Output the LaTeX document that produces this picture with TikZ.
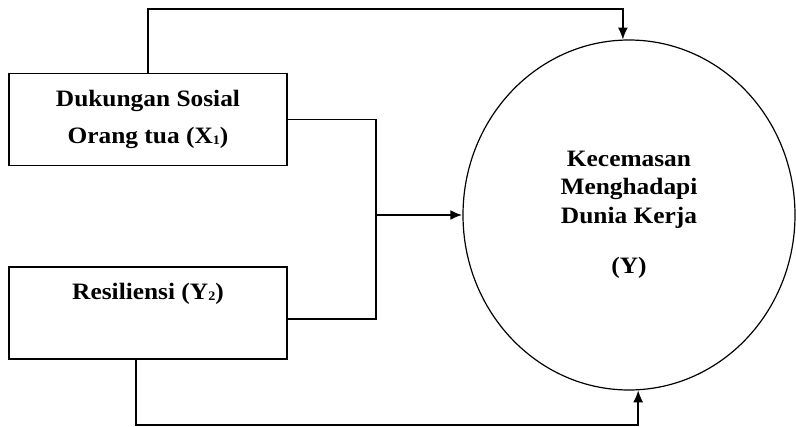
\documentclass[tikz,border=0pt]{standalone}
\usepackage{tikz}
\usetikzlibrary{arrows.meta, positioning, shapes.geometric}
\usepackage{fontspec}
\setmainfont{Liberation Serif}[FakeStretch=1.08]
\newcommand{\lowsub}[1]{\raisebox{-1pt}{\fontsize{13}{13}\selectfont #1}}
\tikzset{%
	every box/.style={
		rectangle,
		draw,
		line width=1.5pt,
		minimum width=278pt,
		minimum height=92pt,
		align=center,
		font=\fontsize{23.5}{37}\selectfont\bfseries
	},
	every link/.style={
		line width=1.4pt
	},
}

\begin{document}
\begin{tikzpicture}[
			x=1pt, y=-1pt,
			>={Latex[length=12pt,width=10pt]},
			outcome/.style={ellipse, draw, line width=1.2pt, minimum width=332pt, minimum height=350pt, inner sep=0pt, align=center, font=\fontsize{23.5}{28.5}\selectfont\bfseries}
			]
			\useasboundingbox (0,0) rectangle (796,427);
			\node[every box] (X1) at (148,119.5) {Dukungan Sosial\\Orang tua (X\lowsub{1})};
			\node[every box, text height=17pt, text depth=43pt] (X2) at (148,313) {Resiliensi (Y\lowsub{2})};
			\node[outcome] (Y) at (629,215) {Kecemasan\\Menghadapi\\Dunia Kerja\\[22pt](Y)};
			\coordinate (junc) at (376,215);
			\coordinate (top) at (0,9);
			\coordinate (bottom) at (0,425);
			\draw[every link] (X1.east) -| (junc);
			\draw[every link] ([yshift=-6pt]X2.east) -| (junc);
			\draw[every link, line width=2.4pt, ->] (junc) -- (Y.west);
			\draw[every link, ->] (X1.north) |- (top -| Y.92) -- (Y.92);
			\draw[every link, ->] ([xshift=-12pt]X2.south) |- (bottom -| Y.-87) -- (Y.-87);
		\end{tikzpicture}
\end{document}
